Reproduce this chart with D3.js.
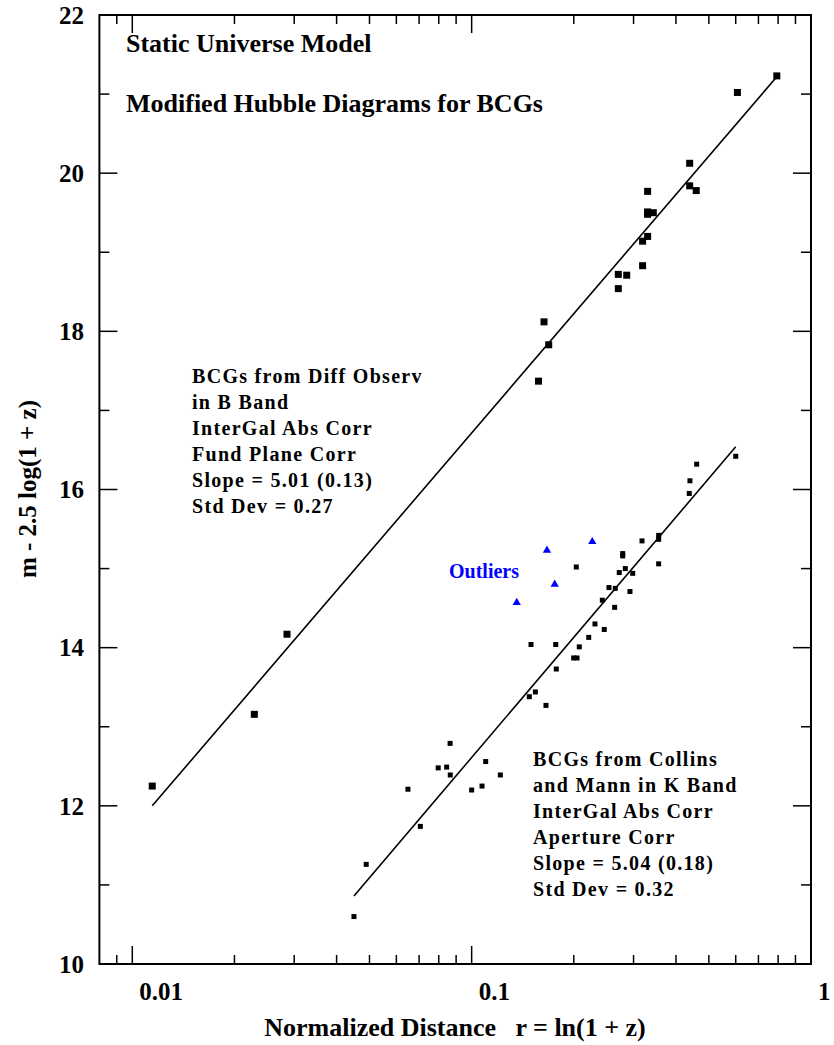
<!DOCTYPE html>
<html>
<head>
<meta charset="utf-8">
<script src="https://cdn.jsdelivr.net/npm/d3@7/dist/d3.min.js"></script>
<style>
  html, body { margin: 0; padding: 0; background: #fff; }
  svg text { font-family: "Liberation Serif", "Times New Roman", serif; font-weight: bold; fill: #000; }
</style>
</head>
<body>
<svg id="chart" width="834" height="1045"></svg>
<script>
// ---- Data ----
// B-band BCGs (upper sample): [r, m - 2.5 log(1+z)]
const bBandR = [0.793, 0.607, 0.439, 0.439, 0.459, 0.330, 0.330, 0.330, 0.343, 0.330, 0.319, 0.319,
                0.2705, 0.2864, 0.2705, 0.1634, 0.1687, 0.1574, 0.01145, 0.02289, 0.02857];
const bBandM = [21.23, 21.02, 20.125, 19.84, 19.78, 19.77, 19.51, 19.48, 19.50, 19.20, 19.14, 18.83,
                18.72, 18.71, 18.54, 18.12, 17.83, 17.37, 12.25, 13.157, 14.17];

// K-band BCGs (Collins & Mann, lower sample)
const kBandR = [0.600, 0.4604, 0.4398, 0.4378, 0.3557, 0.3557, 0.3177, 0.2787, 0.2787, 0.2034, 0.3557,
                0.2837, 0.2723, 0.2983, 0.2539, 0.2650, 0.2928, 0.2427, 0.2639, 0.2309, 0.2459,
                0.2213, 0.1496, 0.1769, 0.2076, 0.1998, 0.2044, 0.1776, 0.1479, 0.1541, 0.1656,
                0.0864, 0.0797, 0.0844, 0.0865, 0.1100, 0.1215, 0.1000, 0.1073, 0.0649, 0.0706,
                0.0489, 0.0450];
const kBandM = [16.42, 16.32, 16.11, 15.95, 15.42, 15.37, 15.35, 15.19, 15.16, 15.02, 15.06,
                15.00, 14.95, 14.94, 14.76, 14.75, 14.71, 14.60, 14.51, 14.30, 14.23,
                14.13, 14.04, 14.04, 14.01, 13.87, 13.87, 13.73, 13.38, 13.44, 13.27,
                12.79, 12.48, 12.49, 12.39, 12.56, 12.39, 12.20, 12.25, 12.21, 11.74,
                11.26, 10.60];

// Outliers (blue triangles)
const outR = [0.1667, 0.2267, 0.1757, 0.1358];
const outM = [15.23, 15.34, 14.80, 14.57];

// Fitted lines (end points)
const fitBR = [0.01145, 0.793];
const fitBM = [12.00, 21.22];
const fitKR = [0.0450, 0.600];
const fitKM = [10.86, 16.54];

// Axis ticks
const xMajorTicks = [0.01, 0.1, 1];
const xTickLabels = ["0.01", "0.1", "1"];
const xMinorTicks = [0.009, 0.02, 0.03, 0.04, 0.05, 0.06, 0.07, 0.08, 0.09,
                     0.2, 0.3, 0.4, 0.5, 0.6, 0.7, 0.8, 0.9];
const yMajorTicks = [10, 12, 14, 16, 18, 20, 22];
const yMinorTicks = [11, 13, 15, 17, 19, 21];

const titleLines = ["Static Universe Model", "Modified Hubble Diagrams for BCGs"];
const bBandNotes = ["BCGs from Diff Observ", "in B Band", "InterGal Abs Corr", "Fund Plane Corr",
                    "Slope = 5.01 (0.13)", "Std Dev = 0.27"];
const kBandNotes = ["BCGs from Collins", "and Mann in K Band", "InterGal Abs Corr", "Aperture Corr",
                    "Slope = 5.04 (0.18)", "Std Dev = 0.32"];
const xTitle = "Normalized Distance\u00A0\u00A0\u00A0r = ln(1 + z)";
const yTitle = "m - 2.5 log(1 + z)";

// ---- Layout ----
const pLeft = 99.4, pRight = 811, pTop = 15, pBottom = 964;
const svg = d3.select("#chart");

const x = d3.scaleLog().domain([0.008, 1]).range([pLeft, pRight]);
const y = d3.scaleLinear().domain([10, 22]).range([pBottom, pTop]);

// Frame
svg.append("rect")
  .attr("x", pLeft).attr("y", pTop)
  .attr("width", pRight - pLeft).attr("height", pBottom - pTop)
  .attr("fill", "none").attr("stroke", "#000").attr("stroke-width", 2);

// Ticks (inward on all four sides)
const tickG = svg.append("g").attr("stroke", "#000").attr("stroke-width", 1.5);
function xTick(v, len) {
  tickG.append("line").attr("x1", x(v)).attr("x2", x(v)).attr("y1", pBottom).attr("y2", pBottom - len);
  tickG.append("line").attr("x1", x(v)).attr("x2", x(v)).attr("y1", pTop).attr("y2", pTop + len);
}
function yTick(v, len) {
  tickG.append("line").attr("y1", y(v)).attr("y2", y(v)).attr("x1", pLeft).attr("x2", pLeft + len);
  tickG.append("line").attr("y1", y(v)).attr("y2", y(v)).attr("x1", pRight).attr("x2", pRight - len);
}
xMajorTicks.forEach(v => xTick(v, 18));
xMinorTicks.forEach(v => xTick(v, 9));
yMajorTicks.forEach(v => yTick(v, 18));
yMinorTicks.forEach(v => yTick(v, 10));

// Tick labels
svg.append("g").selectAll("text").data(xMajorTicks).join("text")
  .attr("x", d => x(d) + 7).attr("y", 1000)
  .attr("font-size", 25)
  .text((d, i) => xTickLabels[i]);

svg.append("g").selectAll("text").data(yMajorTicks).join("text")
  .attr("x", 84).attr("y", d => y(d)).attr("dy", "0.35em")
  .attr("text-anchor", "end").attr("font-size", 25)
  .text(d => d);

// Axis titles
svg.append("text").attr("x", 455).attr("y", 1036).attr("text-anchor", "middle")
  .attr("font-size", 26).text(xTitle);
svg.append("text").attr("transform", "translate(36,489) rotate(-90)")
  .attr("text-anchor", "middle").attr("font-size", 25).text(yTitle);

// Fit lines
const line = d3.line().x(d => x(d[0])).y(d => y(d[1]));
svg.append("path").datum(d3.zip(fitBR, fitBM)).attr("d", line)
  .attr("fill", "none").attr("stroke", "#000").attr("stroke-width", 1.6);
svg.append("path").datum(d3.zip(fitKR, fitKM)).attr("d", line)
  .attr("fill", "none").attr("stroke", "#000").attr("stroke-width", 1.6);

// Points
const sqB = 7, sqK = 5;
svg.append("g").selectAll("rect").data(d3.zip(bBandR, bBandM)).join("rect")
  .attr("x", d => x(d[0]) - sqB / 2).attr("y", d => y(d[1]) - sqB / 2)
  .attr("width", sqB).attr("height", sqB).attr("fill", "#000");
svg.append("g").selectAll("rect").data(d3.zip(kBandR, kBandM)).join("rect")
  .attr("x", d => x(d[0]) - sqK / 2).attr("y", d => y(d[1]) - sqK / 2)
  .attr("width", sqK).attr("height", sqK).attr("fill", "#000");
const tri = d3.symbol().type(d3.symbolTriangle).size(30);
svg.append("g").selectAll("path").data(d3.zip(outR, outM)).join("path")
  .attr("transform", d => `translate(${x(d[0])},${y(d[1])})`)
  .attr("d", tri).attr("fill", "#0000ff");

// Annotations
svg.append("g").selectAll("text").data(titleLines).join("text")
  .attr("x", 126).attr("y", (d, i) => 52 + i * 60)
  .attr("font-size", 26).text(d => d);

svg.append("g").selectAll("text").data(bBandNotes).join("text")
  .attr("x", 192).attr("y", (d, i) => 383 + i * 26)
  .attr("font-size", 20).attr("letter-spacing", 1.3).text(d => d);

svg.append("g").selectAll("text").data(kBandNotes).join("text")
  .attr("x", 533).attr("y", (d, i) => 766 + i * 26)
  .attr("font-size", 20).attr("letter-spacing", 1.3).text(d => d);

svg.append("text").attr("x", 449).attr("y", 578)
  .attr("font-size", 20).style("fill", "#0000ff").text("Outliers");
</script>
</body>
</html>
